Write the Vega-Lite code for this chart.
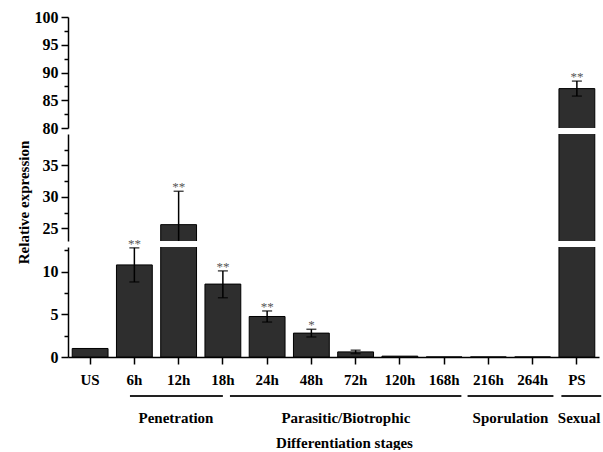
{
  "$schema": "https://vega.github.io/schema/vega-lite/v6.json",
  "padding": {"left": 15, "top": 9, "right": 0, "bottom": 0},
  "datasets": {
    "expr": [
      {"stage": "US", "value": 1.0, "lo": null, "hi": null, "sig": ""},
      {"stage": "6h", "value": 10.8, "lo": 8.8, "hi": 12.8, "sig": "**"},
      {"stage": "12h", "value": 25.6, "lo": 20.3, "hi": 30.9, "sig": "**"},
      {"stage": "18h", "value": 8.55, "lo": 6.95, "hi": 10.1, "sig": "**"},
      {"stage": "24h", "value": 4.75, "lo": 4.1, "hi": 5.4, "sig": "**"},
      {"stage": "48h", "value": 2.8, "lo": 2.35, "hi": 3.25, "sig": "*"},
      {"stage": "72h", "value": 0.6, "lo": 0.4, "hi": 0.8, "sig": ""},
      {"stage": "120h", "value": 0.1, "lo": null, "hi": null, "sig": ""},
      {"stage": "168h", "value": 0.0, "lo": null, "hi": null, "sig": ""},
      {"stage": "216h", "value": 0.0, "lo": null, "hi": null, "sig": ""},
      {"stage": "264h", "value": 0.0, "lo": null, "hi": null, "sig": ""},
      {"stage": "PS", "value": 87.1, "lo": 85.75, "hi": 88.45, "sig": "**"}
    ],
    "groups": [
      {"group": "Penetration", "start": 1.4, "end": 3.5, "center": 2.44},
      {"group": "Parasitic/Biotrophic", "start": 3.66, "end": 8.89, "center": 6.28},
      {"group": "Sporulation", "start": 9.03, "end": 10.97, "center": 10.0},
      {"group": "Sexual", "start": 11.15, "end": 12.05, "center": 11.55}
    ]
  },
  "config": {
    "view": {"stroke": null},
    "font": "Liberation Serif",
    "axis": {
      "labelFont": "Liberation Serif",
      "titleFont": "Liberation Serif",
      "labelFontWeight": "bold",
      "titleFontWeight": "bold",
      "labelColor": "#000",
      "titleColor": "#000",
      "domainColor": "#000",
      "tickColor": "#000",
      "domainWidth": 1.5,
      "tickWidth": 1.5,
      "grid": false
    }
  },
  "spacing": 8,
  "vconcat": [
    {
      "spacing": 6,
      "bounds": "flush",
      "vconcat": [
        {
          "width": 531,
          "height": 111,
          "data": {"name": "expr"},
          "encoding": {
            "x": {"field": "stage", "type": "nominal", "sort": null, "scale": {"paddingInner": 0.19, "paddingOuter": 0.095}, "axis": null}
          },
          "layer": [
            {
              "mark": {"type": "bar", "fill": "#2e2e2e", "stroke": "#000", "strokeWidth": 1, "clip": true},
              "encoding": {
                "y": {"field": "value", "type": "quantitative", "scale": {"domain": [80, 100], "nice": false, "zero": false},
                  "axis": {"title": null, "format": "d", "values": [80, 82.5, 85, 87.5, 90, 92.5, 95, 97.5, 100], "tickCount": 50, "labelOverlap": false, "labelExpr": "datum.value % 5 === 0 ? datum.label : ''", "labelFontSize": 16, "labelPadding": 3, "tickSize": {"condition": {"test": "datum.value % 5 === 0", "value": 7}, "value": 4}}}
              }
            },
            {
              "transform": [{"filter": "datum.hi != null"}],
              "mark": {"type": "rule", "color": "#000", "strokeWidth": 1.5, "clip": true},
              "encoding": {"y": {"field": "lo", "type": "quantitative"}, "y2": {"field": "hi"}}
            },
            {
              "transform": [{"filter": "datum.hi != null"}],
              "mark": {"type": "tick", "color": "#000", "size": 10, "thickness": 1.5, "clip": true},
              "encoding": {"y": {"field": "hi", "type": "quantitative"}}
            },
            {
              "transform": [{"filter": "datum.hi != null"}],
              "mark": {"type": "tick", "color": "#000", "size": 10, "thickness": 1.5, "clip": true},
              "encoding": {"y": {"field": "lo", "type": "quantitative"}}
            },
            {
              "transform": [{"filter": "datum.sig != '' && datum.hi >= 80 && datum.hi <= 100"}],
              "mark": {"type": "text", "font": "Liberation Serif", "fontSize": 13, "color": "#555", "baseline": "alphabetic"},
              "encoding": {"y": {"field": "hi", "type": "quantitative"}, "text": {"field": "sig"}}
            }
          ]
        },
        {
          "width": 531,
          "height": 107,
          "data": {"name": "expr"},
          "encoding": {
            "x": {"field": "stage", "type": "nominal", "sort": null, "scale": {"paddingInner": 0.19, "paddingOuter": 0.095}, "axis": null}
          },
          "layer": [
            {
              "mark": {"type": "bar", "fill": "#2e2e2e", "stroke": "#000", "strokeWidth": 1, "clip": true},
              "encoding": {
                "y": {"field": "value", "type": "quantitative", "scale": {"domain": [23, 40], "nice": false, "zero": false},
                  "axis": {"title": "Relative expression", "titleFontSize": 15, "titlePadding": 11, "titleY": 68, "format": "d", "values": [25, 27.5, 30, 32.5, 35, 37.5], "tickCount": 50, "labelOverlap": false, "labelExpr": "datum.value % 5 === 0 ? datum.label : ''", "labelFontSize": 16, "labelPadding": 3, "tickSize": {"condition": {"test": "datum.value % 5 === 0", "value": 7}, "value": 4}}}
              }
            },
            {
              "transform": [{"filter": "datum.hi != null"}],
              "mark": {"type": "rule", "color": "#000", "strokeWidth": 1.5, "clip": true},
              "encoding": {"y": {"field": "lo", "type": "quantitative"}, "y2": {"field": "hi"}}
            },
            {
              "transform": [{"filter": "datum.hi != null"}],
              "mark": {"type": "tick", "color": "#000", "size": 10, "thickness": 1.5, "clip": true},
              "encoding": {"y": {"field": "hi", "type": "quantitative"}}
            },
            {
              "transform": [{"filter": "datum.hi != null"}],
              "mark": {"type": "tick", "color": "#000", "size": 10, "thickness": 1.5, "clip": true},
              "encoding": {"y": {"field": "lo", "type": "quantitative"}}
            },
            {
              "transform": [{"filter": "datum.sig != '' && datum.hi >= 23 && datum.hi <= 40"}],
              "mark": {"type": "text", "font": "Liberation Serif", "fontSize": 13, "color": "#555", "baseline": "alphabetic"},
              "encoding": {"y": {"field": "hi", "type": "quantitative"}, "text": {"field": "sig"}}
            }
          ]
        },
        {
          "width": 531,
          "height": 110,
          "data": {"name": "expr"},
          "encoding": {
            "x": {"field": "stage", "type": "nominal", "sort": null, "scale": {"paddingInner": 0.19, "paddingOuter": 0.095},
              "axis": {"title": null, "labelAngle": 0, "labelFontSize": 15, "labelPadding": 8, "tickSize": 7}}
          },
          "layer": [
            {
              "mark": {"type": "bar", "fill": "#2e2e2e", "stroke": "#000", "strokeWidth": 1, "clip": true},
              "encoding": {
                "y": {"field": "value", "type": "quantitative", "scale": {"domain": [0, 12.9], "nice": false},
                  "axis": {"title": null, "format": "d", "values": [0, 2.5, 5, 7.5, 10, 12.5], "tickCount": 50, "labelOverlap": false, "labelExpr": "datum.value % 5 === 0 ? datum.label : ''", "labelFontSize": 16, "labelPadding": 3, "tickSize": {"condition": {"test": "datum.value % 5 === 0", "value": 7}, "value": 4}}}
              }
            },
            {
              "transform": [{"filter": "datum.hi != null"}],
              "mark": {"type": "rule", "color": "#000", "strokeWidth": 1.5, "clip": true},
              "encoding": {"y": {"field": "lo", "type": "quantitative"}, "y2": {"field": "hi"}}
            },
            {
              "transform": [{"filter": "datum.hi != null"}],
              "mark": {"type": "tick", "color": "#000", "size": 10, "thickness": 1.5, "clip": true},
              "encoding": {"y": {"field": "hi", "type": "quantitative"}}
            },
            {
              "transform": [{"filter": "datum.hi != null"}],
              "mark": {"type": "tick", "color": "#000", "size": 10, "thickness": 1.5, "clip": true},
              "encoding": {"y": {"field": "lo", "type": "quantitative"}}
            },
            {
              "transform": [{"filter": "datum.sig != '' && datum.hi <= 12.9"}],
              "mark": {"type": "text", "font": "Liberation Serif", "fontSize": 13, "color": "#555", "baseline": "alphabetic"},
              "encoding": {"y": {"field": "hi", "type": "quantitative"}, "text": {"field": "sig"}}
            }
          ]
        }
      ]
    },
    {
      "width": 531,
      "height": 22,
      "data": {"name": "groups"},
      "layer": [
        {
          "mark": {"type": "rule", "color": "#222", "strokeWidth": 2},
          "encoding": {
            "x": {"field": "start", "type": "quantitative", "scale": {"domain": [0, 12], "nice": false, "zero": false},
              "axis": {"title": "Differentiation stages", "titleFontSize": 15, "labels": false, "ticks": false, "domain": false, "titlePadding": 17, "titleX": 276}},
            "x2": {"field": "end"},
            "y": {"datum": 1, "type": "quantitative", "scale": {"domain": [0, 1]}, "axis": null}
          }
        },
        {
          "mark": {"type": "text", "font": "Liberation Serif", "fontSize": 15, "fontWeight": "bold", "baseline": "middle", "color": "#000"},
          "encoding": {
            "x": {"field": "center", "type": "quantitative"},
            "y": {"datum": 0, "type": "quantitative"},
            "text": {"field": "group"}
          }
        }
      ]
    }
  ]
}
